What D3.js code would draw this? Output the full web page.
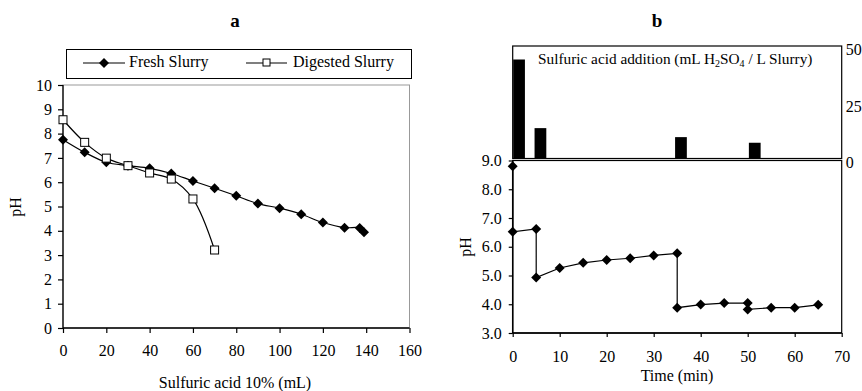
<!DOCTYPE html>
<html>
<head>
<meta charset="utf-8">
<script src="https://cdn.jsdelivr.net/npm/d3@7"></script>
<style>
  html, body { margin: 0; padding: 0; background: #fff; }
  svg text { font-family: "Liberation Serif", "Times New Roman", serif; fill: #000; }
</style>
</head>
<body>
<svg id="chart" width="862" height="391"></svg>
<script>
// Panel a: titration of slurries with 10% sulfuric acid
const freshAcid = [0, 10, 20, 30, 40, 50, 60, 70, 80, 90, 100, 110, 120, 130, 137, 139];
const freshPH   = [7.75, 7.23, 6.82, 6.68, 6.57, 6.36, 6.05, 5.75, 5.44, 5.12, 4.93, 4.68, 4.34, 4.13, 4.12, 3.94];
const digestedAcid = [0, 10, 20, 30, 40, 50, 60, 70];
const digestedPH   = [8.57, 7.64, 6.99, 6.68, 6.38, 6.13, 5.31, 3.21];
const acidTicks = [0, 20, 40, 60, 80, 100, 120, 140, 160];
const phTicksA  = [0, 1, 2, 3, 4, 5, 6, 7, 8, 9, 10];

// Panel b: pH over time with acid additions
const timeMin = [0, 0, 5, 5, 10, 15, 20, 25, 30, 35, 35, 40, 45, 50, 50, 55, 60, 65];
const timePH  = [8.8, 6.52, 6.62, 4.93, 5.26, 5.44, 5.54, 5.6, 5.7, 5.77, 3.88, 3.99, 4.04, 4.04, 3.82, 3.88, 3.88, 3.98];
const additionTime   = [1.35, 5.9, 35.8, 51.5];
const additionVolume = [44, 13.5, 9.5, 7];
const timeTicks  = [0, 10, 20, 30, 40, 50, 60, 70];
const phTicksB   = [3, 4, 5, 6, 7, 8, 9];
const volumeTicks = [0, 25, 50];

const svg = d3.select("#chart");
const FS = 16;

function diamond(g, x, y, r) {
  g.append("path")
    .attr("d", `M${x},${y - r}L${x + r},${y}L${x},${y + r}L${x - r},${y}Z`)
    .attr("fill", "#000");
}

function styleAxis(a, width) {
  a.select(".domain").attr("stroke", "#000").attr("stroke-width", width);
  a.selectAll(".tick line").attr("stroke", "#000").attr("stroke-width", 1.2);
  a.selectAll("text").attr("font-size", FS).attr("font-family", "Liberation Serif");
}

// ---------- Panel a ----------
{
  const x = d3.scaleLinear().domain([0, 160]).range([63, 409.5]);
  const y = d3.scaleLinear().domain([0, 10]).range([328, 85]);
  const g = svg.append("g");

  // plot frame (grey top/right)
  g.append("rect").attr("x", x(0)).attr("y", y(10)).attr("width", x(160) - x(0)).attr("height", y(0) - y(10))
    .attr("fill", "none").attr("stroke", "#999").attr("stroke-width", 1);

  const xAxis = g.append("g").attr("transform", `translate(0,${y(0)})`)
    .call(d3.axisBottom(x).tickValues(acidTicks).tickSize(5).tickPadding(12));
  const yAxis = g.append("g").attr("transform", `translate(${x(0)},0)`)
    .call(d3.axisLeft(y).tickValues(phTicksA).tickSize(5).tickPadding(6));
  styleAxis(xAxis, 1.3);
  styleAxis(yAxis, 1.3);
  xAxis.select(".domain").attr("d", `M${x(0)},0H${x(160)}`);
  yAxis.select(".domain").attr("d", `M0,${y(0)}V${y(10)}`);

  const line = d3.line().curve(d3.curveCatmullRom.alpha(0.5));
  g.append("path").attr("d", line(freshAcid.map((v, i) => [x(v), y(freshPH[i])])))
    .attr("fill", "none").attr("stroke", "#000").attr("stroke-width", 1.2);
  g.append("path").attr("d", line(digestedAcid.map((v, i) => [x(v), y(digestedPH[i])])))
    .attr("fill", "none").attr("stroke", "#000").attr("stroke-width", 1.2);

  freshAcid.forEach((v, i) => diamond(g, x(v), y(freshPH[i]), 5));
  digestedAcid.forEach((v, i) => {
    g.append("rect").attr("x", x(v) - 4).attr("y", y(digestedPH[i]) - 4).attr("width", 8).attr("height", 8)
      .attr("fill", "#fff").attr("stroke", "#000").attr("stroke-width", 1);
  });

  // legend
  g.append("rect").attr("x", 66.5).attr("y", 49.5).attr("width", 345).attr("height", 29)
    .attr("fill", "#fff").attr("stroke", "#000").attr("stroke-width", 1);
  g.append("line").attr("x1", 83).attr("x2", 125).attr("y1", 63).attr("y2", 63).attr("stroke", "#000").attr("stroke-width", 1.2);
  diamond(g, 104, 63, 5);
  g.append("text").attr("x", 129).attr("y", 67).attr("font-size", FS).text("Fresh Slurry");
  g.append("line").attr("x1", 246).attr("x2", 287).attr("y1", 63).attr("y2", 63).attr("stroke", "#000").attr("stroke-width", 1.2);
  g.append("rect").attr("x", 263).attr("y", 59).attr("width", 7).attr("height", 7).attr("fill", "#fff").attr("stroke", "#000");
  g.append("text").attr("x", 293).attr("y", 67).attr("font-size", FS).text("Digested Slurry");

  g.append("text").attr("x", 235).attr("y", 388).attr("text-anchor", "middle").attr("font-size", FS).text("Sulfuric acid 10% (mL)");
  g.append("text").attr("transform", "translate(21,207) rotate(-90)").attr("text-anchor", "middle").attr("font-size", FS).text("pH");
  g.append("text").attr("x", 235).attr("y", 27).attr("text-anchor", "middle").attr("font-size", 19).attr("font-weight", "bold").text("a");
}

// ---------- Panel b ----------
{
  const x = d3.scaleLinear().domain([0, 70]).range([512.7, 841.7]);
  const y = d3.scaleLinear().domain([3, 9]).range([333, 160.5]);
  const yv = d3.scaleLinear().domain([0, 50]).range([158.5, 46]);
  const g = svg.append("g");

  // acid-addition box
  g.append("rect").attr("x", x(0)).attr("y", yv(50)).attr("width", x(70) - x(0)).attr("height", yv(0) - yv(50))
    .attr("fill", "none").attr("stroke", "#000").attr("stroke-width", 1.2);
  const barW = x(2.5) - x(0);
  additionTime.forEach((t, i) => {
    g.append("rect").attr("x", x(t) - barW / 2).attr("y", yv(additionVolume[i]))
      .attr("width", barW).attr("height", yv(0) - yv(additionVolume[i])).attr("fill", "#000");
  });
  const yr = g.append("g").attr("transform", `translate(${x(70)},0)`)
    .call(d3.axisRight(yv).tickValues(volumeTicks).tickSize(0).tickPadding(4));
  yr.select(".domain").remove();
  yr.selectAll("text").attr("font-size", FS).attr("font-family", "Liberation Serif").attr("dy", "0.55em");

  const label = g.append("text").attr("x", 538).attr("y", 64).attr("font-size", 15.3);
  label.append("tspan").text("Sulfuric acid addition (mL H");
  label.append("tspan").attr("font-size", 10).attr("dy", 3).text("2");
  label.append("tspan").attr("dy", -3).text("SO");
  label.append("tspan").attr("font-size", 10).attr("dy", 3).text("4");
  label.append("tspan").attr("dy", -3).text(" / L Slurry)");

  // pH frame
  g.append("rect").attr("x", x(0)).attr("y", y(9)).attr("width", x(70) - x(0)).attr("height", y(3) - y(9))
    .attr("fill", "none").attr("stroke", "#000").attr("stroke-width", 1.2);
  const xAxis = g.append("g").attr("transform", `translate(0,${y(3)})`)
    .call(d3.axisBottom(x).tickValues(timeTicks).tickSize(4).tickPadding(14));
  const yAxis = g.append("g").attr("transform", `translate(${x(0)},0)`)
    .call(d3.axisLeft(y).tickValues(phTicksB).tickFormat(d3.format(".1f")).tickSize(4).tickPadding(7));
  styleAxis(xAxis, 1.5);
  styleAxis(yAxis, 1.5);
  xAxis.select(".domain").attr("d", `M${x(0)},0H${x(70)}`);
  yAxis.select(".domain").attr("d", `M0,${y(3)}V${y(9)}`);

  const line = d3.line();
  g.append("path").attr("d", line(timeMin.map((t, i) => [x(t), y(timePH[i])])))
    .attr("fill", "none").attr("stroke", "#000").attr("stroke-width", 1.2);
  timeMin.forEach((t, i) => diamond(g, x(t), y(timePH[i]), 5));

  g.append("text").attr("x", 677).attr("y", 381).attr("text-anchor", "middle").attr("font-size", FS).text("Time (min)");
  g.append("text").attr("transform", "translate(471,247) rotate(-90)").attr("text-anchor", "middle").attr("font-size", FS).text("pH");
  g.append("text").attr("x", 657).attr("y", 27).attr("text-anchor", "middle").attr("font-size", 19).attr("font-weight", "bold").text("b");
}
</script>
</body>
</html>
